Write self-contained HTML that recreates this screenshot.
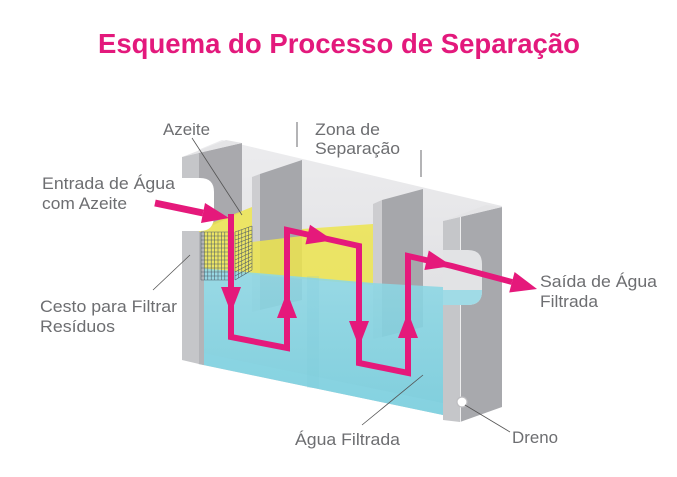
<!DOCTYPE html>
<html><head><meta charset="utf-8">
<style>
html,body{margin:0;padding:0;background:#fff;}
svg{display:block;}
text{font-family:"Liberation Sans",Arial,sans-serif;}
</style></head>
<body>
<svg width="677" height="477" viewBox="0 0 677 477" xmlns="http://www.w3.org/2000/svg">
<defs>
 <linearGradient id="bw" x1="0" y1="0" x2="0" y2="1">
   <stop offset="0" stop-color="#ececee"/><stop offset="1" stop-color="#d9d9dc"/>
 </linearGradient>
 <linearGradient id="wat" x1="0" y1="0" x2="0" y2="1">
   <stop offset="0" stop-color="#8fd8e5"/><stop offset="1" stop-color="#74cddd"/>
 </linearGradient>
</defs>
<rect width="677" height="477" fill="#fff"/>

<!-- Title -->
<text x="98" y="53" font-size="27.5" font-weight="bold" fill="#e3197c" textLength="482" lengthAdjust="spacingAndGlyphs">Esquema do Processo de Separação</text>

<!-- back wall -->
<polygon points="198,150 222,140 502,206 502,407 443,415 198,364" fill="url(#bw)"/>

<!-- left wall inner dark face -->
<polygon points="198,153 242,143 242,212 198,232" fill="#a9a9ad"/>
<!-- left wall top cap -->
<polygon points="182,157 199,153 242,143 226,140" fill="#e4e4e6"/>

<!-- baffle 1 -->
<polygon points="260,174 302,160 302,300 260,310" fill="#a6a7ab"/>
<polygon points="252,177 260,174 260,310 252,312" fill="#cdcdd0"/>
<!-- baffle 2 -->
<polygon points="382,200 423,189 423,327 382,337" fill="#a6a7ab"/>
<polygon points="373,204 382,200 382,337 373,339" fill="#cdcdd0"/>

<!-- oil (yellow) -->
<polygon points="199,228 252,207 252,242 302,236 302,229 373,224 373,285 199,270" fill="#ece44e" opacity="0.85"/>

<!-- water -->
<polygon points="199,268 373,283 443,287 443,415 199,364" fill="url(#wat)" opacity="0.88"/>
<polygon points="199,352 443,403 443,415 199,364" fill="#8ad6e3" opacity="0.5"/>
<rect x="307" y="276" width="12" height="112" fill="#78c9d8" opacity="0.18"/>

<!-- left wall front face -->
<polygon points="182,157 199,153 199,364 182,360" fill="#c5c6c9"/>
<polygon points="199,232 204,231 204,365 199,364" fill="#b3b4b8"/>
<!-- inlet notch -->
<path d="M176,178 H200 Q214,178 214,192 V216 Q214,231 200,231 H176 Z" fill="#fff"/>

<!-- basket grid -->
<g stroke="#4e5c66" stroke-width="0.55" fill="none">
 <path d="M201,232V280M204.4,232V280M207.8,232V280M211.2,232V280M214.6,232V280M218,232V280M221.4,232V280M224.8,232V280M228.2,232V280"/>
 <path d="M201,232H228M201,236H228M201,240H228M201,244H228M201,248H228M201,252H228M201,256H228M201,260H228M201,264H228M201,268H228M201,272H228M201,276H228M201,280H228"/>
 <path d="M235,232V280M238.4,230.9V278M241.8,229.7V276M245.2,228.5V274M248.6,227.3V272M252,226V270"/>
 <path d="M235,232L252,226M235,236L252,230M235,240L252,234M235,244L252,237.5M235,248L252,241M235,252L252,245M235,256L252,248.5M235,260L252,252M235,264L252,256M235,268L252,259.5M235,272L252,263M235,276L252,266.5M235,280L252,270"/>
</g>

<!-- right wall -->
<polygon points="460,217 502,207 502,407 460,422" fill="#a8a9ad"/>
<polygon points="443,221 460,217 460,422 443,420" fill="#c5c6c9"/>
<polygon points="443,221 460,217 502,207 486,205" fill="#e4e4e6"/>
<line x1="460.5" y1="217" x2="460.5" y2="422" stroke="#eeeeef" stroke-width="1"/>
<!-- outlet notch -->
<path d="M443,250 H468 Q482,250 482,264 V291 Q482,305 468,305 H443 Z" fill="#e2e3e5"/>
<path d="M443,290 H482 V291 Q482,305 468,305 H443 Z" fill="#a0dbe6"/>
<!-- drain -->
<circle cx="462" cy="402" r="5" fill="#fff" stroke="#bdbdc0" stroke-width="1.2"/>

<!-- Zona de Separação ticks -->
<line x1="297" y1="122" x2="297" y2="147" stroke="#b4b4b6" stroke-width="2"/>
<line x1="421" y1="150" x2="421" y2="177" stroke="#b4b4b6" stroke-width="2"/>

<!-- pink flow -->
<g fill="#e5197b">
 <path d="M155,203 L203,213" stroke="#e5197b" stroke-width="7" fill="none"/>
 <polygon points="205,203 201,223 229,218"/>
 <path d="M231,214 V337 L287,348 V230 L359,246 V363 L408,373 V256 L452,266 L512,282" stroke="#e5197b" stroke-width="6" fill="none" stroke-linejoin="miter"/>
 <polygon points="221,287 241,287 231,313"/>
 <polygon points="277,318 297,318 287,292"/>
 <polygon points="310,224.8 305.4,244.4 333,240.2"/>
 <polygon points="349,321 369,321 359,347"/>
 <polygon points="398,338 418,338 408,312"/>
 <polygon points="428.8,250.5 424.4,270 452,266"/>
 <polygon points="514.6,272 509.2,292.5 537,289"/>
</g>

<!-- leader lines -->
<g stroke="#555" stroke-width="0.8">
 <line x1="192" y1="138" x2="242" y2="215"/>
 <line x1="153" y1="290" x2="190" y2="255"/>
 <line x1="362" y1="425" x2="423" y2="375"/>
 <line x1="465" y1="405" x2="510" y2="432"/>
</g>

<!-- labels -->
<g fill="#6d6e71" font-size="17">
 <text x="163" y="135" textLength="47" lengthAdjust="spacingAndGlyphs">Azeite</text>
 <text x="315" y="135" textLength="65" lengthAdjust="spacingAndGlyphs">Zona de</text>
 <text x="315" y="154" textLength="85" lengthAdjust="spacingAndGlyphs">Separação</text>
 <text x="42" y="189" textLength="133" lengthAdjust="spacingAndGlyphs">Entrada de Água</text>
 <text x="42" y="209" textLength="85" lengthAdjust="spacingAndGlyphs">com Azeite</text>
 <text x="40" y="312" textLength="137" lengthAdjust="spacingAndGlyphs">Cesto para Filtrar</text>
 <text x="40" y="332" textLength="75" lengthAdjust="spacingAndGlyphs">Resíduos</text>
 <text x="540" y="287" textLength="117" lengthAdjust="spacingAndGlyphs">Saída de Água</text>
 <text x="540" y="307" textLength="58" lengthAdjust="spacingAndGlyphs">Filtrada</text>
 <text x="295" y="445" textLength="105" lengthAdjust="spacingAndGlyphs">Água Filtrada</text>
 <text x="512" y="443" textLength="46" lengthAdjust="spacingAndGlyphs">Dreno</text>
</g>
</svg>
</body></html>
